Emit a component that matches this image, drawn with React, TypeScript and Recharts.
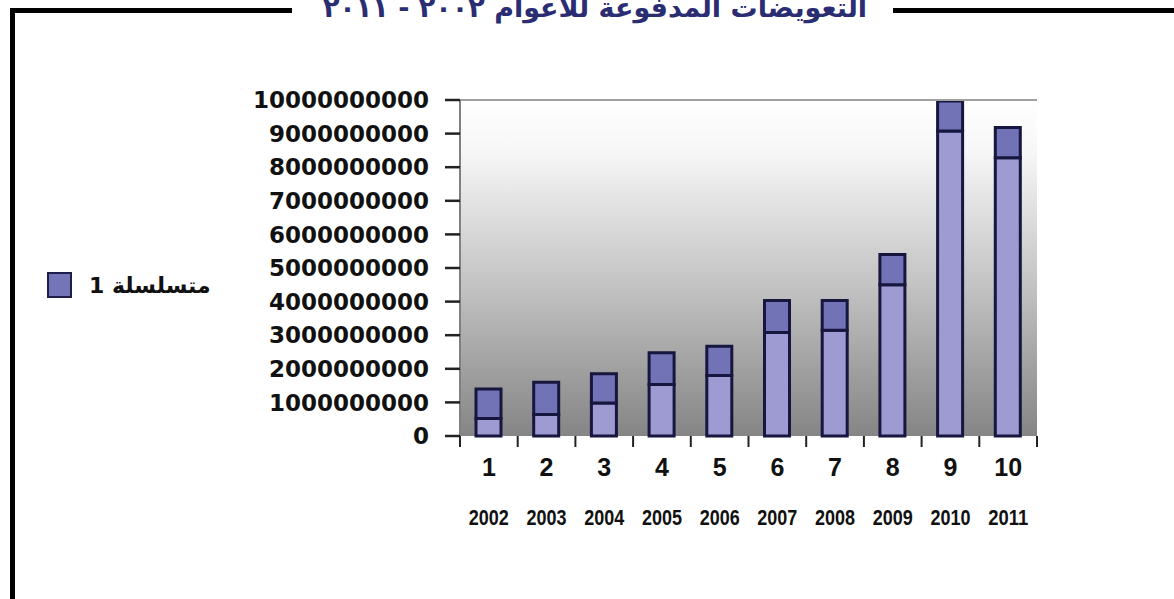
import React from 'react';
import {
  BarChart,
  Bar,
  XAxis,
  YAxis,
  CartesianGrid,
  ReferenceLine,
} from 'recharts';

// chart values
const categories = ['1', '2', '3', '4', '5', '6', '7', '8', '9', '10'];
const years = ['2002', '2003', '2004', '2005', '2006', '2007', '2008', '2009', '2010', '2011'];
const lowerPart = [0.52e9, 0.64e9, 0.98e9, 1.53e9, 1.8e9, 3.08e9, 3.15e9, 4.5e9, 9.08e9, 8.28e9];
const upperPart = [0.88e9, 0.96e9, 0.87e9, 0.95e9, 0.87e9, 0.95e9, 0.88e9, 0.9e9, 0.89e9, 0.9e9];
const yTicks = [0, 1e9, 2e9, 3e9, 4e9, 5e9, 6e9, 7e9, 8e9, 9e9, 1e10];

const title = 'التعويضات المدفوعة للأعوام ٢٠٠٢ - ٢٠١١';
const seriesName = 'متسلسلة 1';

const data = categories.map((name, i) => ({
  name,
  year: years[i],
  lower: lowerPart[i],
  upper: upperPart[i],
}));

const CHART_W = 1174;
const CHART_H = 599;
const MARGIN = { top: 100, right: 137, left: 260, bottom: 63 };
const Y_W = 200;
const PLOT_W = CHART_W - MARGIN.left - MARGIN.right - Y_W;
const BAND = PLOT_W / categories.length;

const XTick = (props: any) => {
  const { x, y, payload, index } = props;
  const last = index === categories.length - 1;
  return (
    <g>
      <line x1={x - BAND / 2} x2={x - BAND / 2} y1={y} y2={y + 11} stroke="#222" strokeWidth={2} />
      {last && (
        <line x1={x + BAND / 2} x2={x + BAND / 2} y1={y} y2={y + 11} stroke="#222" strokeWidth={2} />
      )}
      <text
        x={x}
        y={y + 40}
        textAnchor="middle"
        fontFamily="'Liberation Sans', Arial, sans-serif"
        fontWeight="bold"
        fontSize={25}
        fill="#111"
      >
        {payload.value}
      </text>
      <text
        x={x}
        y={y + 89}
        textAnchor="middle"
        textLength={40}
        lengthAdjust="spacingAndGlyphs"
        fontFamily="'Liberation Sans', Arial, sans-serif"
        fontWeight="bold"
        fontSize={22}
        fill="#111"
      >
        {years[index]}
      </text>
    </g>
  );
};

export default function App() {
  return (
    <div
      style={{
        position: 'absolute',
        left: 0,
        top: 0,
        width: CHART_W,
        height: CHART_H,
        background: '#fff',
        overflow: 'hidden',
      }}
    >
      <svg width={0} height={0} style={{ position: 'absolute' }}>
        <defs>
          <linearGradient id="plotBg" x1="0" y1="0" x2="0" y2="1">
            <stop offset="0%" stopColor="#ffffff" />
            <stop offset="15%" stopColor="#f7f7f7" />
            <stop offset="55%" stopColor="#c3c3c3" />
            <stop offset="100%" stopColor="#858585" />
          </linearGradient>
        </defs>
      </svg>

      <BarChart width={CHART_W} height={CHART_H} data={data} margin={MARGIN}>
        <CartesianGrid horizontal={false} vertical={false} fill="url(#plotBg)" />
        <YAxis
          width={Y_W}
          domain={[0, 1e10]}
          ticks={yTicks}
          interval={0}
          tickSize={15}
          tickMargin={16}
          axisLine={{ stroke: '#808080', strokeWidth: 2 }}
          tickLine={{ stroke: '#222', strokeWidth: 2.5 }}
          tick={{
            fontFamily: "'DejaVu Sans', sans-serif",
            fontWeight: 'bold',
            fontSize: 23,
            fill: '#111',
          }}
        />
        <YAxis
          yAxisId="frame"
          orientation="right"
          width={0}
          tick={false}
          tickLine={false}
          axisLine={{ stroke: '#a0a0a0', strokeWidth: 2 }}
        />
        <XAxis
          dataKey="name"
          height={100}
          interval={0}
          tickSize={0}
          tickMargin={0}
          axisLine={false}
          tickLine={false}
          tick={<XTick />}
        />
        <ReferenceLine y={1e10} stroke="#a0a0a0" strokeWidth={2} />
        <Bar
          dataKey="lower"
          stackId="a"
          fill="#9d9bd2"
          stroke="#16163e"
          strokeWidth={3}
          barSize={25}
          isAnimationActive={false}
        />
        <Bar
          dataKey="upper"
          stackId="a"
          fill="#7272b6"
          stroke="#16163e"
          strokeWidth={3}
          barSize={25}
          isAnimationActive={false}
        />
      </BarChart>

      {/* legend */}
      <div
        style={{
          position: 'absolute',
          left: 47,
          top: 272,
          display: 'flex',
          alignItems: 'center',
        }}
      >
        <div
          style={{
            width: 21,
            height: 22,
            background: '#7474b8',
            border: '2px solid #1e1e48',
          }}
        />
        <span
          style={{
            marginLeft: 17,
            direction: 'rtl',
            fontFamily: "'DejaVu Sans', sans-serif",
            fontWeight: 'bold',
            fontSize: 22,
            color: '#111',
          }}
        >
          {seriesName}
        </span>
      </div>

      <svg
        width={CHART_W}
        height={CHART_H}
        style={{ position: 'absolute', left: 0, top: 0, pointerEvents: 'none' }}
      >
        <rect x={10} y={8} width={5} height={CHART_H} fill="#000" />
        <rect x={10} y={8} width={282} height={5} fill="#000" />
        <rect x={893} y={8} width={CHART_W - 893} height={5} fill="#000" />
        <text
          x={595}
          y={17}
          textAnchor="middle"
          direction="rtl"
          fontFamily="'DejaVu Sans', sans-serif"
          fontWeight="bold"
          fontSize={27}
          fill="#2b2d73"
        >
          {title}
        </text>
      </svg>
    </div>
  );
}
